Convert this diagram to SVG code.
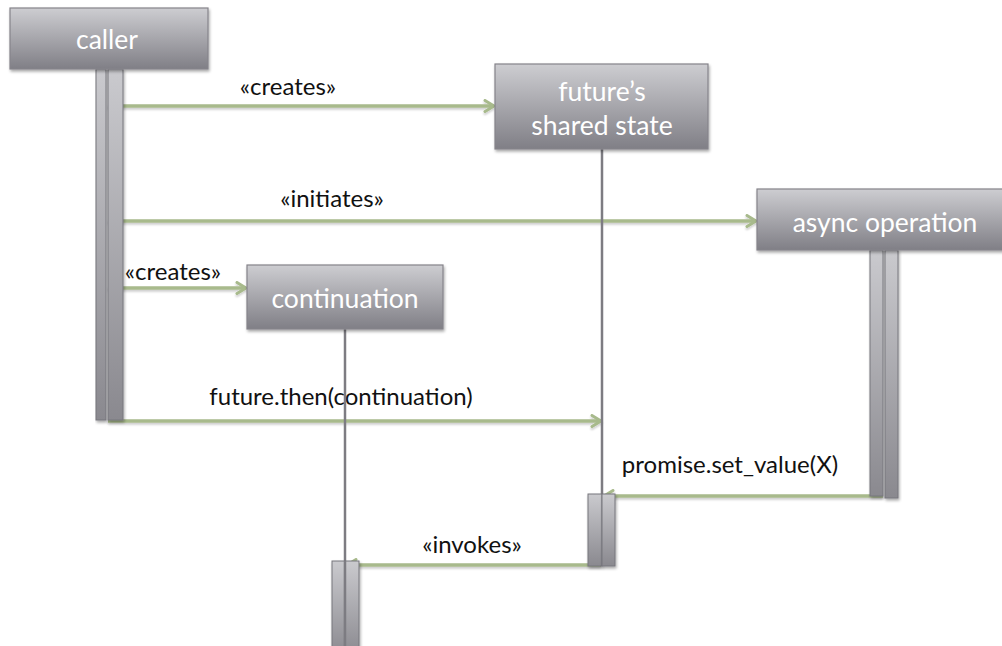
<svg xmlns="http://www.w3.org/2000/svg" width="1002" height="646" viewBox="0 0 1002 646">
  <style>
    .box { fill: url(#boxGrad); stroke: #85848a; stroke-width: 1.2; filter: url(#shadow); }
    .bar { fill: url(#barGrad); stroke: #77767c; stroke-width: 1; filter: url(#shadow); }
    .life { stroke: #7d7c82; stroke-width: 2.5; }
    .title { font-family: Lato, "Liberation Sans", sans-serif; font-size: 26.5px; fill: #ffffff; text-anchor: middle; }
    .msg { fill: none; stroke: #a8ba8c; stroke-width: 3.5; filter: url(#soft); }
    .label { font-family: Lato, "Liberation Sans", sans-serif; font-size: 24px; fill: #111111; text-anchor: middle; }
  </style>
  <defs>
    <linearGradient id="boxGrad" x1="0" y1="0" x2="0" y2="1">
      <stop offset="0" stop-color="#cdcdd1"/>
      <stop offset="1" stop-color="#807f86"/>
    </linearGradient>
    <linearGradient id="barGrad" x1="0" y1="0" x2="0" y2="1">
      <stop offset="0" stop-color="#cacace"/>
      <stop offset="1" stop-color="#8a898f"/>
    </linearGradient>
    <filter id="shadow" x="-20%" y="-10%" width="150%" height="130%">
      <feGaussianBlur in="SourceAlpha" stdDeviation="1.5"/>
      <feOffset dx="1" dy="2" result="off"/>
      <feComponentTransfer><feFuncA type="linear" slope="0.35"/></feComponentTransfer>
      <feMerge><feMergeNode/><feMergeNode in="SourceGraphic"/></feMerge>
    </filter>
    <!-- user-space region so that flat horizontal lines keep their filter area -->
    <filter id="soft" filterUnits="userSpaceOnUse" x="0" y="0" width="1002" height="646">
      <feGaussianBlur in="SourceAlpha" stdDeviation="1"/>
      <feOffset dx="0" dy="2" result="off"/>
      <feComponentTransfer><feFuncA type="linear" slope="0.2"/></feComponentTransfer>
      <feMerge><feMergeNode/><feMergeNode in="SourceGraphic"/></feMerge>
    </filter>
    <marker id="arrow" viewBox="0 0 14 14" refX="12" refY="7" markerWidth="14" markerHeight="14" markerUnits="userSpaceOnUse" orient="auto">
      <path d="M3,1.5 L12,7 L3,12.5" fill="none" stroke="#a8ba8c" stroke-width="3" stroke-linecap="round" stroke-linejoin="round"/>
    </marker>
  </defs>

  <!-- message arrows -->
  <g id="connectors">
    <path class="msg" d="M108,106 H494" marker-end="url(#arrow)"/>
    <text class="label" x="288" y="95">«creates»</text>
    <path class="msg" d="M108,221 H756" marker-end="url(#arrow)"/>
    <text class="label" x="332" y="207">«initiates»</text>
    <path class="msg" d="M108,288 H246" marker-end="url(#arrow)"/>
    <text class="label" x="173" y="280">«creates»</text>
    <path class="msg" d="M108,421 H601" marker-end="url(#arrow)"/>
    <text class="label" x="341" y="405">future.then(continuation)</text>
    <path class="msg" d="M883,496 H604" marker-end="url(#arrow)"/>
    <text class="label" x="730" y="473">promise.set_value(X)</text>
    <path class="msg" d="M601,565 H347" marker-end="url(#arrow)"/>
    <text class="label" x="472" y="553">«invokes»</text>
  </g>

  <!-- caller -->
  <g id="caller">
    <rect class="bar" x="96" y="69" width="10" height="351"/>
    <rect class="bar" x="108" y="69" width="15" height="351"/>
    <rect class="box" x="10" y="8" width="198" height="61"/>
    <text class="title" x="107" y="49">caller</text>
  </g>

  <!-- future's shared state -->
  <g id="shared-state">
    <line class="life" x1="602" y1="149" x2="602" y2="494"/>
    <rect class="bar" x="588" y="494" width="14" height="72"/>
    <rect class="bar" x="602" y="494" width="13" height="72"/>
    <rect class="box" x="495" y="64" width="213" height="85"/>
    <text class="title" x="602" y="101">future’s</text>
    <text class="title" x="602" y="135">shared state</text>
  </g>

  <!-- async operation -->
  <g id="async-operation">
    <rect class="bar" x="870" y="250" width="13" height="246"/>
    <rect class="bar" x="885" y="250" width="13" height="248"/>
    <rect class="box" x="757" y="189" width="254" height="61"/>
    <text class="title" x="885" y="232">async operation</text>
  </g>

  <!-- continuation -->
  <g id="continuation">
    <line class="life" x1="345" y1="329" x2="345" y2="561"/>
    <rect class="bar" x="332" y="561" width="13" height="95"/>
    <rect class="bar" x="345" y="561" width="14" height="95"/>
    <line class="life" x1="345" y1="561" x2="345" y2="646"/>
    <rect class="box" x="247" y="265" width="196" height="64"/>
    <text class="title" x="345" y="308">continuation</text>
  </g>
</svg>
